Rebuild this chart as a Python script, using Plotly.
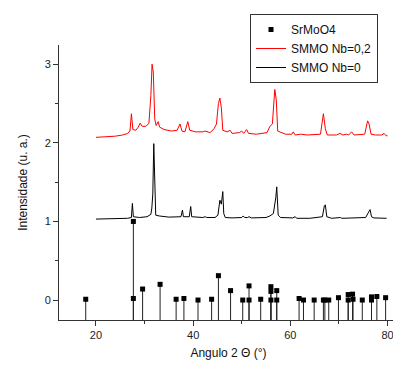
import plotly.graph_objects as go

# ---- data ----
nb02_x = [20.0, 22.0, 24.0, 25.5, 26.5, 27.0, 27.3, 27.6, 28.2, 28.7, 29.1, 29.5, 30.3, 30.9, 31.3, 31.55,
          31.8, 32.1, 32.4, 32.8, 33.1, 34.0, 35.5, 36.7, 37.3, 37.7, 38.3, 38.9, 39.3, 40.5, 42.0, 42.4,
          43.5, 44.3, 44.8, 45.2, 45.5, 45.8, 46.1, 47.0, 47.6, 48.0, 49.5, 50.0, 50.4, 51.0, 51.4, 53.0,
          55.2, 55.8, 56.3, 56.8, 57.1, 57.4, 59.0, 60.3, 60.6, 61.0, 62.1, 63.5, 66.2, 66.8, 67.2, 67.6,
          69.5, 70.2, 70.8, 71.6, 72.0, 72.6, 73.1, 75.3, 75.9, 76.2, 76.6, 77.5, 78.8, 79.3, 79.7, 80.0]
nb02_y = [2.07, 2.075, 2.085, 2.10, 2.12, 2.15, 2.37, 2.17, 2.16, 2.20, 2.25, 2.21, 2.21, 2.25, 2.60, 3.00,
          2.90, 2.30, 2.22, 2.27, 2.20, 2.17, 2.15, 2.16, 2.24, 2.15, 2.14, 2.27, 2.16, 2.14, 2.14, 2.15,
          2.13, 2.18, 2.24, 2.50, 2.57, 2.45, 2.16, 2.14, 2.16, 2.12, 2.13, 2.15, 2.12, 2.17, 2.12, 2.11,
          2.13, 2.21, 2.24, 2.68, 2.55, 2.15, 2.11, 2.11, 2.14, 2.10, 2.11, 2.10, 2.11, 2.37, 2.18, 2.10,
          2.10, 2.12, 2.10, 2.11, 2.10, 2.14, 2.10, 2.11, 2.28, 2.24, 2.11, 2.10, 2.10, 2.12, 2.09, 2.09]

nb0_x = [20.0, 24.0, 26.5, 27.3, 27.5, 27.7, 29.0, 30.5, 31.3, 31.5, 31.7, 31.9, 32.1, 32.3, 33.0, 35.0,
         37.5, 37.8, 38.0, 39.2, 39.5, 39.7, 42.0, 42.5, 42.8, 44.5, 45.1, 45.5, 45.8, 46.1, 46.3, 46.6,
         48.0, 50.0, 50.3, 50.6, 51.2, 51.5, 52.0, 55.0, 55.8, 56.5, 57.0, 57.2, 57.5, 58.0, 60.5, 61.0,
         61.3, 64.0, 66.6, 67.0, 67.2, 67.5, 68.5, 70.3, 70.6, 72.5, 75.5, 76.2, 76.4, 76.7, 77.2, 79.8]
nb0_y = [1.03, 1.035, 1.04, 1.05, 1.23, 1.06, 1.05, 1.06, 1.09, 1.17, 1.35, 1.99, 1.35, 1.08, 1.07, 1.055,
         1.06, 1.145, 1.06, 1.06, 1.19, 1.06, 1.05, 1.06, 1.05, 1.05, 1.08, 1.27, 1.22, 1.38, 1.10, 1.05,
         1.045, 1.05, 1.07, 1.05, 1.05, 1.06, 1.045, 1.05, 1.07, 1.10, 1.30, 1.44, 1.08, 1.05, 1.045, 1.06,
         1.04, 1.04, 1.06, 1.20, 1.21, 1.06, 1.04, 1.05, 1.04, 1.045, 1.05, 1.13, 1.15, 1.06, 1.045, 1.04]

ref_x = [17.9, 27.7, 27.7, 29.6, 33.2, 36.5, 38.1, 41.0, 43.8, 45.2, 47.7, 50.2, 51.5, 51.5, 53.9, 56.0,
         56.0, 56.0, 57.2, 57.2, 61.8, 62.7, 64.9, 66.8, 67.1, 67.9, 69.9, 71.9, 71.9, 72.8, 72.9, 74.8,
         76.7, 76.7, 77.8, 79.6]
ref_y = [0.01, 1.0, 0.02, 0.14, 0.20, 0.01, 0.02, 0.0, 0.01, 0.31, 0.12, 0.0, 0.0, 0.18, 0.01, 0.17,
         0.11, 0.0, 0.12, 0.0, 0.02, 0.0, 0.0, 0.0, 0.0, 0.0, 0.03, 0.07, 0.0, 0.075, 0.01, 0.0,
         0.04, 0.0, 0.045, 0.03]

X_RANGE = [12.4, 82.15]
Y_RANGE = [-0.254, 3.245]

# stems from the bottom of the axis up to each reflection
stem_x, stem_y = [], []
for xv, yv in zip(ref_x, ref_y):
    stem_x += [xv, xv, None]
    stem_y += [Y_RANGE[0], yv, None]

fig = go.Figure()
fig.add_trace(go.Scatter(x=stem_x, y=stem_y, mode="lines", line=dict(color="#222", width=1),
                         showlegend=False, hoverinfo="skip"))
fig.add_trace(go.Scatter(x=ref_x, y=ref_y, mode="markers", name="SrMoO4",
                         marker=dict(symbol="square", size=5, color="black")))
fig.add_trace(go.Scatter(x=nb02_x, y=nb02_y, mode="lines", name="SMMO Nb=0,2",
                         line=dict(color="#ff0000", width=1)))
fig.add_trace(go.Scatter(x=nb0_x, y=nb0_y, mode="lines", name="SMMO Nb=0",
                         line=dict(color="black", width=1)))

# the page body adds an 8px offset, so the figure is 8px smaller and margins shifted
axis_font = dict(family="Liberation Sans, Arial, sans-serif", size=11, color="#222")
fig.update_layout(
    width=393, height=357,
    margin=dict(l=51, r=3, t=37, b=45),
    paper_bgcolor="white", plot_bgcolor="white",
    font=dict(family="Liberation Sans, Arial, sans-serif", size=12, color="#222"),
    legend=dict(x=(250 - 59) / 339, y=(320 - 14) / 275, xanchor="left", yanchor="top",
                bordercolor="#333", borderwidth=1, bgcolor="white",
                font=dict(size=12, color="#111"), tracegroupgap=0, itemwidth=30),
    xaxis=dict(range=X_RANGE, showgrid=False, zeroline=False, showline=True, linecolor="#333",
               linewidth=1, ticks="outside", ticklen=5, tickcolor="#333", tick0=0, dtick=20,
               minor=dict(ticks="outside", ticklen=3, tickcolor="#333", dtick=10, tick0=0),
               tickfont=axis_font,
               title=dict(text="Angulo 2 Θ (°)", font=dict(size=12, color="#111"), standoff=8)),
    yaxis=dict(range=Y_RANGE, showgrid=False, zeroline=False, showline=True, linecolor="#333",
               linewidth=1, ticks="outside", ticklen=5, tickcolor="#333", tick0=0, dtick=1,
               minor=dict(ticks="outside", ticklen=3, tickcolor="#333", dtick=0.5, tick0=0),
               tickfont=axis_font,
               title=dict(text="Intensidade (u. a.)", font=dict(size=12, color="#111"), standoff=14)),
)

fig.write_html("out.html")
